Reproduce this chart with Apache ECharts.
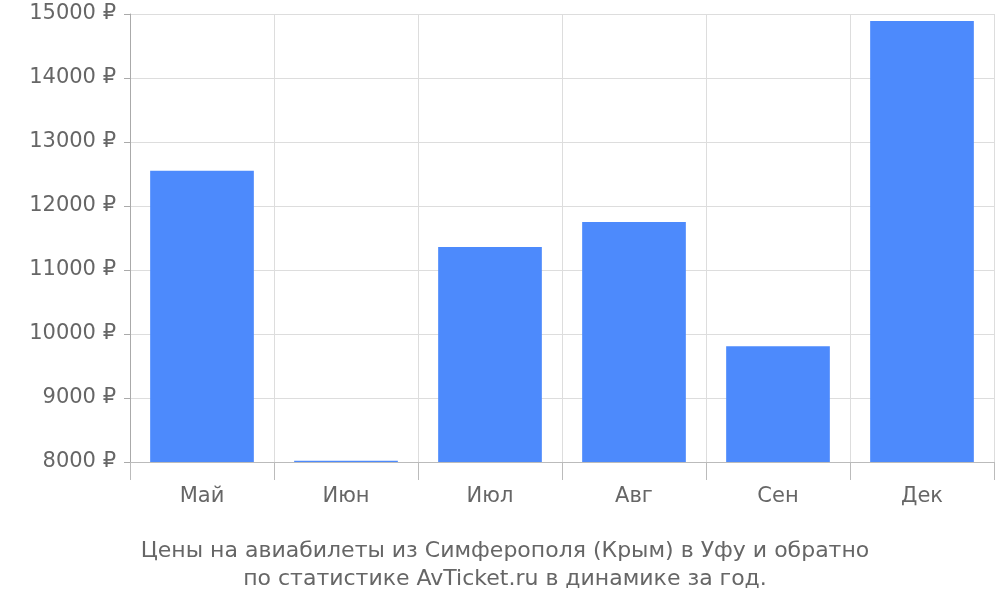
<!DOCTYPE html>
<html><head><meta charset="utf-8">
<script src="https://cdn.jsdelivr.net/npm/echarts@6/dist/echarts.min.js"></script>
<style>html,body{margin:0;padding:0;background:#fff}#c{width:1000px;height:600px}</style>
</head><body><div id="c"></div>
<script>
const categories = ["Май","Июн","Июл","Авг","Сен","Дек"];
const prices = [12550, 8020, 11360, 11750, 9810, 14890];
const chart = echarts.init(document.getElementById('c'));
chart.setOption({
  animation:false,
  textStyle:{fontFamily:"DejaVu Sans"},
  title:{text:"Цены на авиабилеты из Симферополя (Крым) в Уфу и обратно\nпо статистике AvTicket.ru в динамике за год.",
    left:500, textAlign:'center', top:532,
    textStyle:{color:'#666',fontSize:22,fontWeight:'normal',lineHeight:28,fontFamily:"DejaVu Sans"}},
  grid:{left:130,right:6,top:14,bottom:138},
  xAxis:{type:'category',data:categories,
    axisLine:{lineStyle:{color:'#bbb'}},
    axisTick:{show:true,length:18,lineStyle:{color:'#bbb'}},
    splitLine:{show:true,lineStyle:{color:'#ddd'}},
    axisLabel:{color:'#666',fontSize:21,margin:24}},
  yAxis:{type:'value',min:8000,max:15000,interval:1000,
    axisLine:{show:true,lineStyle:{color:'#aaa'}},
    axisTick:{show:true,length:6,lineStyle:{color:'#aaa'}},
    splitLine:{lineStyle:{color:'#ddd'}},
    axisLabel:{color:'#666',fontSize:21,margin:14,formatter:v=>v+' ₽'}},
  series:[{type:'bar',data:prices,barWidth:'72%',itemStyle:{color:'#4d8afc'}}]
});
</script></body></html>
